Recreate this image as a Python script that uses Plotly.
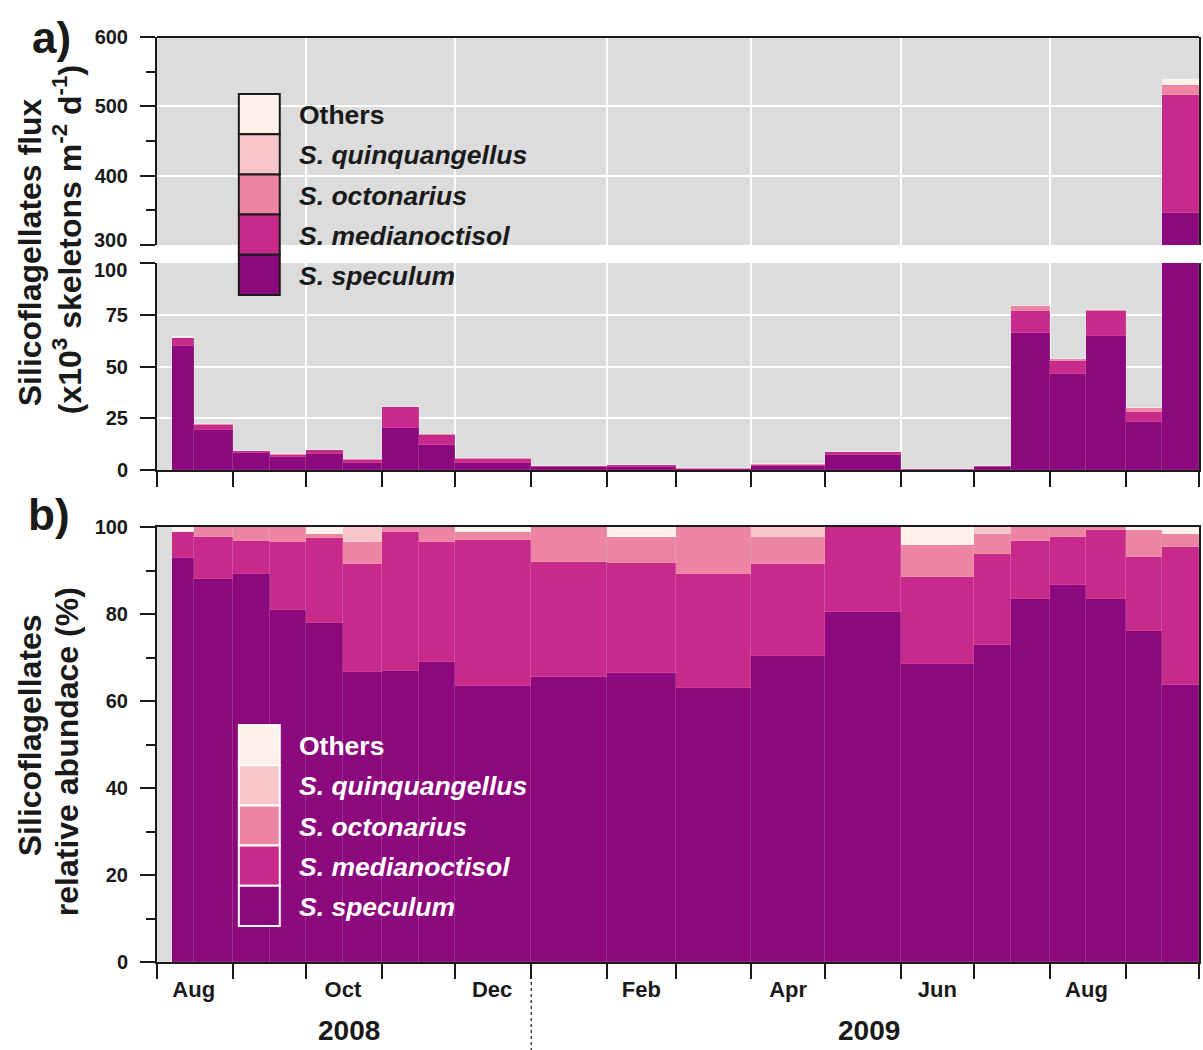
import pandas as pd
import plotly.graph_objects as go

# ---------------- data ----------------
period_start = ["2008-08-07", "2008-08-16", "2008-09-01", "2008-09-16", "2008-10-01", "2008-10-16",
                "2008-11-01", "2008-11-16", "2008-12-01", "2009-01-01", "2009-02-01", "2009-03-01",
                "2009-04-01", "2009-05-01", "2009-06-01", "2009-07-01", "2009-07-16", "2009-08-01",
                "2009-08-16", "2009-09-01", "2009-09-16"]
period_end = ["2008-08-16", "2008-09-01", "2008-09-16", "2008-10-01", "2008-10-16", "2008-11-01",
              "2008-11-16", "2008-12-01", "2009-01-01", "2009-02-01", "2009-03-01", "2009-04-01",
              "2009-05-01", "2009-06-01", "2009-07-01", "2009-07-16", "2009-08-01", "2009-08-16",
              "2009-09-01", "2009-09-16", "2009-10-01"]

species = ["S. speculum", "S. medianoctisol", "S. octonarius", "S. quinquangellus", "Others"]
colors = ["#8B087D", "#C72A8B", "#EC84A4", "#F8C6C9", "#FEF1E9"]

# panel a: flux (x10^3 skeletons m-2 d-1)
flux_speculum = [60.0, 19.5, 8.3, 6.2, 7.6, 3.5, 20.5, 12.0, 3.6, 1.3, 1.6, 0.5, 2.0, 7.2, 0.2, 1.5,
                 66.3, 46.6, 64.7, 23.0, 346.6]
flux_medianoctisol = [4.0, 2.1, 0.7, 1.2, 1.9, 1.3, 9.8, 4.8, 1.9, 0.5, 0.6, 0.2, 0.6, 1.7, 0.05, 0.45,
                      10.5, 6.0, 12.1, 5.0, 169.8]
flux_octonarius = [0.0, 0.5, 0.3, 0.3, 0.1, 0.3, 0.3, 0.6, 0.1, 0.2, 0.15, 0.1, 0.2, 0.0, 0.02, 0.1,
                   2.4, 1.0, 0.5, 1.8, 14.4]
flux_quinquangellus = [0, 0, 0, 0, 0, 0.2, 0, 0, 0, 0, 0, 0, 0.1, 0, 0, 0.05, 0, 0, 0, 0, 0]
flux_others = [0.7, 0, 0, 0, 0.15, 0, 0, 0, 0.1, 0, 0.05, 0, 0, 0, 0.01, 0, 0, 0, 0, 0.3, 8.2]

# panel b: relative abundance (%)
pct_speculum = [92.8, 88.0, 89.3, 81.0, 78.0, 66.6, 66.8, 69.0, 63.5, 65.5, 66.5, 63.0, 70.3, 80.4,
                68.4, 72.9, 83.4, 86.6, 83.4, 76.1, 63.7]
pct_medianoctisol = [6.1, 9.6, 7.5, 15.5, 19.5, 25.0, 32.1, 27.6, 33.5, 26.5, 25.3, 26.3, 21.3, 19.6,
                     20.1, 21.0, 13.4, 11.0, 15.9, 17.1, 31.8]
pct_octonarius = [0, 2.4, 3.2, 3.5, 1.0, 5.0, 1.1, 3.4, 1.8, 8.0, 5.8, 10.7, 6.0, 0, 7.3, 4.5, 3.2,
                  2.4, 0.7, 6.0, 3.0]
pct_quinquangellus = [0, 0, 0, 0, 0, 3.4, 0, 0, 0, 0, 0, 0, 2.4, 0, 0, 1.6, 0, 0, 0, 0, 0]
pct_others = [1.1, 0, 0, 0, 1.5, 0, 0, 0, 1.2, 0, 2.4, 0, 0, 0, 4.2, 0, 0, 0, 0, 0.8, 1.5]

flux_series = [flux_speculum, flux_medianoctisol, flux_octonarius, flux_quinquangellus, flux_others]
pct_series = [pct_speculum, pct_medianoctisol, pct_octonarius, pct_quinquangellus, pct_others]

month_label_dates = ["2008-08-16", "2008-10-16", "2008-12-16", "2009-02-15", "2009-04-16",
                     "2009-06-16", "2009-08-16"]
month_labels = ["Aug", "Oct", "Dec", "Feb", "Apr", "Jun", "Aug"]
month_starts = [d.strftime("%Y-%m-%d") for d in pd.date_range("2008-08-01", "2009-10-01", freq="MS")]
grid_months = month_starts[::2]
x_range = ["2008-08-01", "2009-10-01"]
year_labels = ["2008", "2009"]

# ---------------- geometry helpers (screen pixels) ----------------
W, H = 1203, 1050
X0, X1, Y0, Y1 = 157, 1201, 37, 962          # plot area in screen pixels
ML, MT = X0, Y0
MR, MB = W - X1, H - Y1
PW, PH = X1 - X0, Y1 - Y0


def px(x):
    return (x - X0) / PW


def py(y):
    return (Y1 - y) / PH


FONT = "Liberation Sans, Arial, Helvetica, sans-serif"
INK = "#1a1a1a"

starts = pd.to_datetime(period_start)
ends = pd.to_datetime(period_end)
widths = [(e - s).total_seconds() * 1000 for s, e in zip(starts, ends)]

fig = go.Figure()
bar_line = dict(width=0.6, color="rgba(255,255,255,0.15)")
for name, col, fl, pc in zip(species, colors, flux_series, pct_series):
    for ya in ["y", "y2"]:
        fig.add_trace(go.Bar(x=period_start, y=fl, width=widths, offset=0, xaxis="x2", yaxis=ya,
                             marker=dict(color=col, line=bar_line), name=name, showlegend=False))
    fig.add_trace(go.Bar(x=period_start, y=pc, width=widths, offset=0, xaxis="x", yaxis="y3",
                         marker=dict(color=col, line=bar_line), name=name, showlegend=False))

tickfont = dict(family=FONT, size=20, color=INK, weight="bold")
yax_common = dict(showline=True, linecolor=INK, linewidth=2, mirror=True, ticks="outside",
                  ticklen=15, tickwidth=2, tickcolor=INK, tickfont=tickfont, zeroline=False,
                  ticklabelstandoff=8)

fig.update_layout(
    width=W, height=H, margin=dict(l=ML, r=MR, t=MT, b=MB),
    paper_bgcolor="white", plot_bgcolor="#DCDCDC",
    barmode="stack", bargap=0, showlegend=False,
    font=dict(family=FONT, color=INK),
    xaxis=dict(domain=[0, 1], anchor="y3", type="date", range=x_range,
               tickmode="array", tickvals=month_label_dates, ticktext=month_labels,
               ticks="outside", ticklen=7, tickcolor="rgba(0,0,0,0)",
               tickfont=dict(family=FONT, size=22, color=INK, weight="bold"),
               minor=dict(tickmode="array", tickvals=month_starts, ticks="outside", ticklen=15,
                          tickwidth=2, tickcolor=INK, showgrid=False),
               showline=True, linecolor=INK, linewidth=2, mirror=True, showgrid=False),
    xaxis2=dict(domain=[0, 1], anchor="y2", type="date", range=x_range, matches="x",
                tickmode="array", tickvals=grid_months, showticklabels=False,
                ticks="outside", ticklen=15, tickwidth=2, tickcolor=INK,
                minor=dict(tickmode="array", tickvals=month_starts, ticks="outside", ticklen=15,
                           tickwidth=2, tickcolor=INK, showgrid=False),
                showgrid=True, gridcolor="white", gridwidth=2,
                showline=True, linecolor=INK, linewidth=2),
    yaxis=dict(domain=[py(245), 1.0], anchor="x2", range=[300, 600],
               tickmode="array", tickvals=[300, 400, 500, 600], ticktext=["", "400", "500", "600"],
               minor=dict(tickmode="array", tickvals=[350, 450, 550], ticks="outside", ticklen=9,
                          tickwidth=2, tickcolor=INK, showgrid=False),
               showgrid=True, gridcolor="white", gridwidth=2, **yax_common),
    yaxis2=dict(domain=[py(470), py(263)], anchor="x2", range=[0, 100],
                tickmode="array", tickvals=[0, 25, 50, 75, 100], ticktext=["0", "25", "50", "75", ""],
                showgrid=True, gridcolor="white", gridwidth=2, **yax_common),
    yaxis3=dict(domain=[0, py(527)], anchor="x", range=[0, 100],
                tickmode="array", tickvals=[0, 20, 40, 60, 80, 100],
                minor=dict(tickmode="array", tickvals=[10, 30, 50, 70, 90], ticks="outside",
                           ticklen=9, tickwidth=2, tickcolor=INK, showgrid=False),
                showgrid=False, **yax_common),
)

shapes = []
# top border of panel a
shapes.append(dict(type="line", xref="paper", yref="paper", x0=0, x1=1, y0=1, y1=1,
                   line=dict(color=INK, width=2)))
# dotted year separator
shapes.append(dict(type="line", xref="x", yref="paper", x0="2009-01-01", x1="2009-01-01",
                   y0=py(964), y1=py(1050), line=dict(color=INK, width=1.2, dash="dot")))

annotations = []
# legends (drawn as stacked swatches)
leg_names = ["Others", "<i>S. quinquangellus</i>", "<i>S. octonarius</i>",
             "<i>S. medianoctisol</i>", "<i>S. speculum</i>"]
leg_cols = colors[::-1]
for top, edge, tcol in [(94, INK, INK), (725, "white", "white")]:
    row_h = 40.2
    for i, (nm, c) in enumerate(zip(leg_names, leg_cols)):
        y0 = top + i * row_h
        shapes.append(dict(type="rect", xref="paper", yref="paper",
                           x0=px(239), x1=px(280), y0=py(y0), y1=py(y0 + row_h),
                           fillcolor=c, line=dict(color=edge, width=2), layer="above"))
        annotations.append(dict(xref="paper", yref="paper", x=px(297), y=py(y0 + row_h / 2 + 1),
                                xanchor="left", yanchor="middle", showarrow=False, text=nm,
                                font=dict(family=FONT, size=26.5, color=tcol, weight="bold")))

# broken-axis end labels (offset apart, as in the reference)
annotations += [
    dict(xref="paper", yref="paper", x=px(129), y=py(240), text="300", showarrow=False,
         xanchor="right", yanchor="middle", font=tickfont),
    dict(xref="paper", yref="paper", x=px(129), y=py(270), text="100", showarrow=False,
         xanchor="right", yanchor="middle", font=tickfont),
]

title_font = dict(family=FONT, size=32, color=INK, weight="bold")
big = dict(family=FONT, size=44, color=INK, weight="bold")
yearfont = dict(family=FONT, size=28, color=INK, weight="bold")
annotations += [
    dict(xref="paper", yref="paper", x=px(30), y=py(252), text="Silicoflagellates flux",
         textangle=-90, showarrow=False, xanchor="center", yanchor="middle", font=title_font),
    dict(xref="paper", yref="paper", x=px(67), y=py(240),
         text="(x10<sup>3</sup> skeletons m<sup>-2</sup> d<sup>-1</sup>)",
         textangle=-90, showarrow=False, xanchor="center", yanchor="middle", font=title_font),
    dict(xref="paper", yref="paper", x=px(30), y=py(735), text="Silicoflagellates",
         textangle=-90, showarrow=False, xanchor="center", yanchor="middle", font=title_font),
    dict(xref="paper", yref="paper", x=px(67), y=py(752), text="relative abundace (%)",
         textangle=-90, showarrow=False, xanchor="center", yanchor="middle", font=title_font),
    dict(xref="paper", yref="paper", x=px(51), y=py(38), text="a)", showarrow=False,
         xanchor="center", yanchor="middle", font=big),
    dict(xref="paper", yref="paper", x=px(49), y=py(514), text="b)", showarrow=False,
         xanchor="center", yanchor="middle", font=big),
    dict(xref="paper", yref="paper", x=px(349), y=py(1030), text=year_labels[0], showarrow=False,
         xanchor="center", yanchor="middle", font=yearfont),
    dict(xref="paper", yref="paper", x=px(870), y=py(1030), text=year_labels[1], showarrow=False,
         xanchor="center", yanchor="middle", font=yearfont),
]

fig.update_layout(shapes=shapes, annotations=annotations)
fig.write_html("out.html", config={"displayModeBar": False},
               post_script="document.body.style.margin='0';document.body.style.overflow='hidden';")
